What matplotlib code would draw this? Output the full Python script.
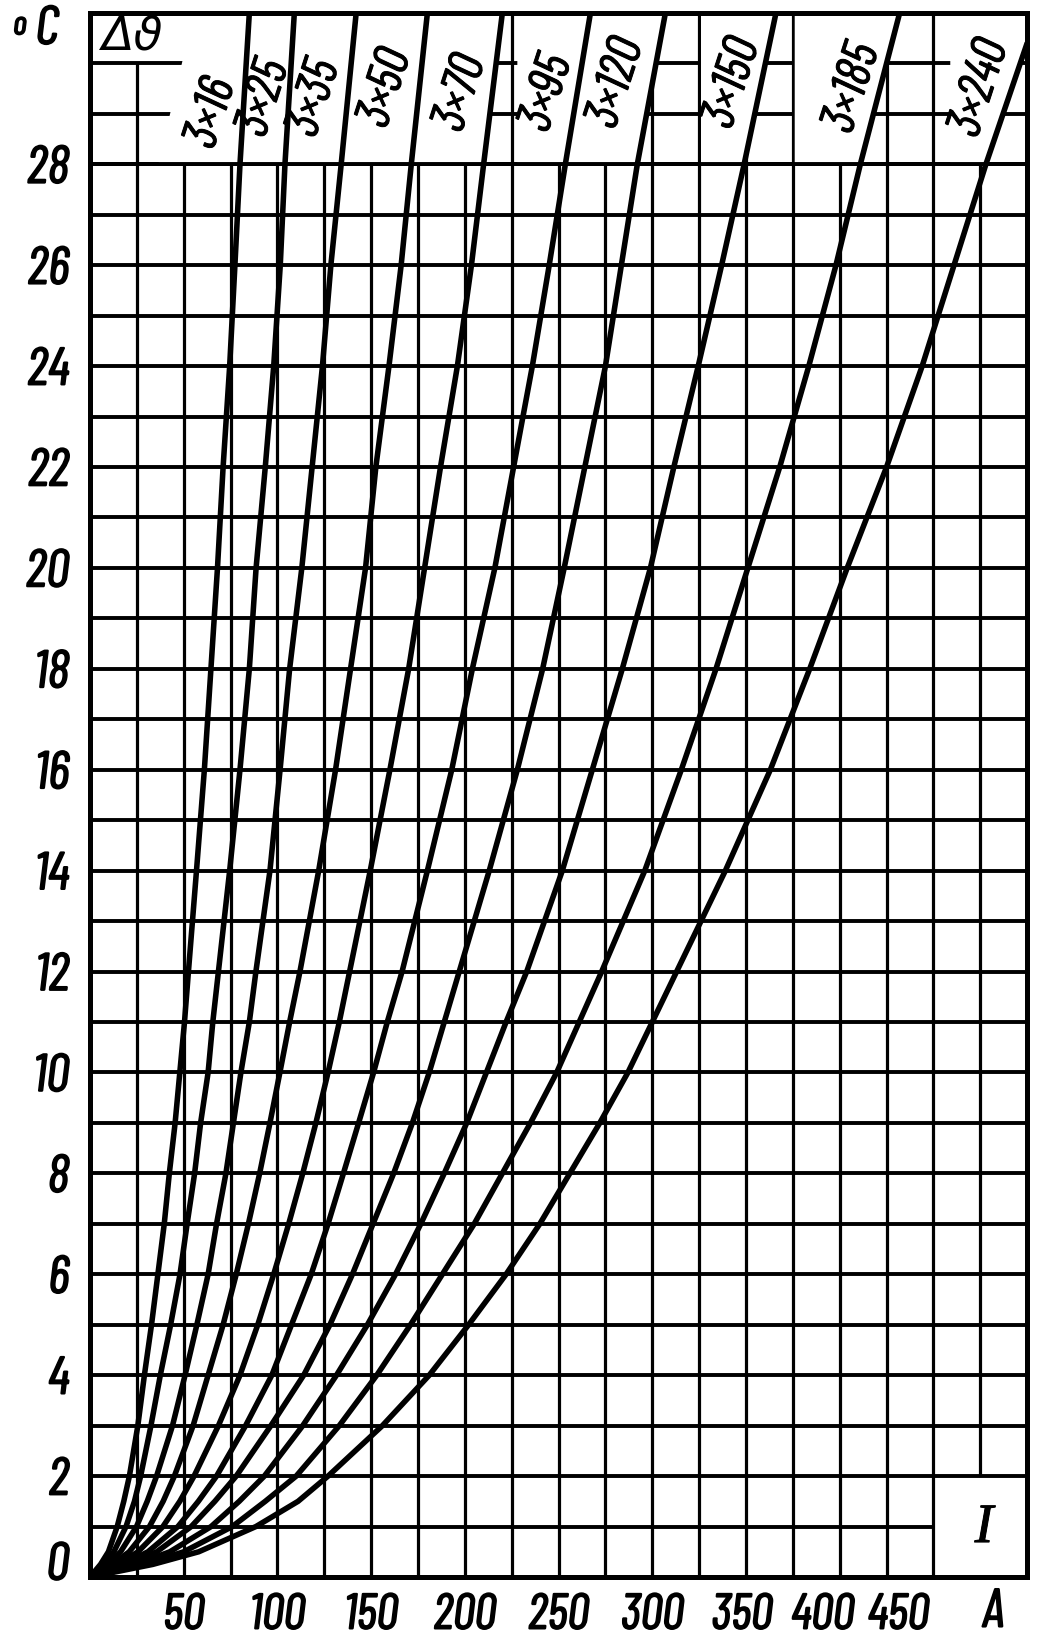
import matplotlib
matplotlib.use("Agg")
import matplotlib.pyplot as plt
import matplotlib.transforms as mtransforms
import matplotlib.patheffects as pe
from matplotlib.patches import Polygon, Rectangle

# ---------------- data ----------------
cables = ["3×16", "3×25", "3×35", "3×50", "3×70", "3×95", "3×120", "3×150", "3×185", "3×240"]

# temperature-rise levels (°C) at which the curves were read
temp_rise = [0, 0.25, 0.5, 1, 1.5, 2, 3, 4, 5, 6, 7, 8, 9, 10, 11, 12, 14, 16, 18, 20, 22, 24, 26, 28]

# current (A) of each cable at those temperature rises
current_3x16 = [0, 5.6, 9.8, 14.5, 18, 21, 25.5, 29, 32.8, 36.2, 39.6, 42.3, 45.4, 47.9, 50.4, 52.5,
                56.8, 61, 64.5, 68, 71, 74.5, 77.3, 80]
current_3x25 = [0, 7.3, 12.7, 19.2, 23.7, 27, 32.5, 37.5, 43, 48, 51.8, 55.8, 59, 63, 65.5, 68.5,
                74.5, 80, 85, 88.6, 93.5, 98, 101.5, 104]
current_3x35 = [0, 9.4, 16.3, 24.8, 30.5, 35.5, 44, 50.7, 57, 63, 67.5, 72.5, 76.5, 80.5, 85, 88.5,
                96, 101.4, 106.5, 113, 118.5, 124, 128.5, 134]
current_3x50 = [0, 12, 20.9, 31.7, 39, 45, 55, 63, 71, 78, 84.5, 90.5, 96, 101.3, 106.5, 112,
                122, 131, 139, 147, 152.5, 159.5, 166, 171.4]
current_3x70 = [0, 14.7, 25.6, 38.9, 47.9, 55.5, 68.5, 80, 89.5, 98, 106, 113.5, 120.5, 127, 133, 138.5,
                149.5, 160, 170, 178.5, 187, 196, 203.5, 210]
current_3x95 = [0, 17.8, 30.9, 46.9, 57.8, 67.5, 83, 97, 107.5, 118, 127, 135.2, 143.3, 151.3, 158.6, 166.5,
                180, 193, 204, 216, 226, 236, 245, 253.6]
current_3x120 = [0, 20.4, 35.6, 54, 66.6, 78, 96.5, 114, 128, 140, 151, 162, 172, 181, 189, 197,
                 213, 228, 241.5, 253, 264, 275, 283.5, 292]
current_3x150 = [0, 24.4, 42.6, 64.6, 79.6, 93, 113.5, 131.5, 148, 163, 176.5, 189, 201, 211.5, 222, 233,
                 252, 268, 284, 299, 311.5, 324.5, 337, 349]
current_3x185 = [0, 28.7, 50, 75.9, 93.5, 110, 133, 153, 171, 188, 205, 220, 235, 249, 261, 273,
                 296, 315.5, 334, 351, 368, 383.5, 398, 411]
current_3x240 = [0, 33.5, 58, 88.5, 111, 127, 156, 181, 202, 222, 240, 256, 272, 287, 300, 313,
                 339, 363, 384, 404, 425, 444, 461, 478]

# end point of each curve at the top of the chart
top_temp = [31, 31, 31, 31, 31, 31, 31, 31, 31, 30.4]
top_current = [85, 109, 142, 180, 220, 267, 307, 366, 432, 500]

x_ticks = [50, 100, 150, 200, 250, 300, 350, 400, 450]
y_ticks = [0, 2, 4, 6, 8, 10, 12, 14, 16, 18, 20, 22, 24, 26, 28]

currents = [current_3x16, current_3x25, current_3x35, current_3x50, current_3x70,
            current_3x95, current_3x120, current_3x150, current_3x185, current_3x240]

# ---------------- layout / style ----------------
FONT = ["Barlow Condensed", "Sofia Sans Extra Condensed", "DejaVu Sans"]
PEN = [pe.withStroke(linewidth=1.2, foreground="k")]
PEN_LIGHT = [pe.withStroke(linewidth=0.7, foreground="k")]
XMAX, YMAX = 500, 31

fig = plt.figure(figsize=(10.47, 16.41), dpi=100)
ax = fig.add_axes([0.0860, 0.0390, 0.8950, 0.9531])
ax.set_xlim(0, XMAX)
ax.set_ylim(0, YMAX)

GRID_H = 2.8
GRID_V = 2.3

for a in range(25, XMAX, 25):
    lo, hi = 0, YMAX
    if a == 25:
        hi = 30
    if a == 475:
        lo = 2
    ax.vlines(a, lo, hi, color="k", lw=GRID_V, zorder=1)
for t in range(1, YMAX):
    hi = 450 if t == 1 else XMAX
    ax.hlines(t, 0, hi, color="k", lw=GRID_H, zorder=1)


def curve_pts(i):
    xs = list(currents[i]) + [top_current[i]]
    ys = list(temp_rise) + [top_temp[i]]
    return xs, ys


def upper_part(i):
    xs, ys = curve_pts(i)
    pts = [(x, y) for x, y in zip(xs, ys) if y >= 28]
    if pts[-1][1] < YMAX:
        pts.append((XMAX, YMAX))
    return pts


# white label boxes above 28 °C
box_left = [("slant", 36.4, 55.3), ("prev",), ("prev",), ("prev",), ("prev",),
            ("vert", 228), ("prev",), ("vert", 326), ("vert", 376), ("vert", 459)]
for i, spec in enumerate(box_left):
    right = upper_part(i)
    if spec[0] == "prev":
        left = upper_part(i - 1)[::-1]
    elif spec[0] == "vert":
        left = [(spec[1], YMAX), (spec[1], 28)]
    else:
        left = [(spec[2], YMAX), (spec[1], 28)]
    ax.add_patch(Polygon(right + left, closed=True, facecolor="white", edgecolor="none", zorder=2))

# Δϑ cell
ax.add_patch(Rectangle((0.5, 30.05), 52, 0.95, facecolor="white", edgecolor="none", zorder=2))
ax.hlines(28, 0, XMAX, color="k", lw=GRID_H, zorder=3)

# curves
for i in range(len(cables)):
    xs, ys = curve_pts(i)
    ax.plot(xs, ys, color="k", lw=4.0, solid_capstyle="round", solid_joinstyle="round", zorder=4)

# curve labels
label_pos = [(65, 29.0), (93, 29.3), (120, 29.3), (158, 29.5), (198, 29.4),
             (244, 29.4), (281, 29.6), (343, 29.6), (407, 29.5), (475, 29.5)]
for name, (lx, ly) in zip(cables, label_pos):
    ax.text(lx, ly, name, rotation=72, ha="center", va="center", fontsize=36,
            family=FONT, style="italic", zorder=5, path_effects=PEN_LIGHT)

ax.text(23, 30.52, "Δϑ", ha="center", va="center", fontsize=34,
        family=["DejaVu Sans"], style="italic", zorder=5)
ax.text(477, 0.97, "I", ha="center", va="center", fontsize=40,
        family=["Liberation Serif", "DejaVu Serif"], style="italic", zorder=5, path_effects=PEN_LIGHT)

for s in ax.spines.values():
    s.set_linewidth(3.6)
    s.set_zorder(6)

# ticks
ax.set_xticks(x_ticks)
ax.set_xticklabels([str(v) for v in x_ticks])
ax.set_yticks(y_ticks)
ax.set_yticklabels([str(v) for v in y_ticks])
ax.tick_params(axis="both", length=0)
ax.tick_params(axis="x", pad=12)
ax.tick_params(axis="y", pad=15)
for lab in ax.get_yticklabels():
    lab.set_fontfamily(FONT)
    lab.set_fontstyle("italic")
    lab.set_fontsize(38)
    lab.set_path_effects(PEN)
for lab in ax.get_xticklabels():
    lab.set_fontfamily(FONT)
    lab.set_fontstyle("italic")
    lab.set_fontsize(36)
    lab.set_path_effects(PEN)

x_shift_px = {350: -4, 400: -17, 450: -35}
for v, lab in zip(x_ticks, ax.get_xticklabels()):
    if v in x_shift_px:
        lab.set_transform(lab.get_transform() +
                          mtransforms.ScaledTranslation(x_shift_px[v] / 100, 0, fig.dpi_scale_trans))
for v, lab in zip(y_ticks, ax.get_yticklabels()):
    if v == 0:
        lab.set_transform(lab.get_transform() +
                          mtransforms.ScaledTranslation(0, 16 / 100, fig.dpi_scale_trans))

# unit labels
trans_x = mtransforms.blended_transform_factory(ax.transData, ax.transAxes)
ax.text(482, -0.0075, "A", transform=trans_x, ha="center", va="top", fontsize=39,
        family=FONT, style="italic", path_effects=PEN)
fig.text(0.019, 0.9840, "o", ha="center", va="center", fontsize=24, family=FONT, style="italic",
         path_effects=PEN)
fig.text(0.045, 0.9815, "C", ha="center", va="center", fontsize=39, family=FONT, style="italic",
         path_effects=PEN)

fig.savefig("out.png", dpi=100, facecolor="white")
